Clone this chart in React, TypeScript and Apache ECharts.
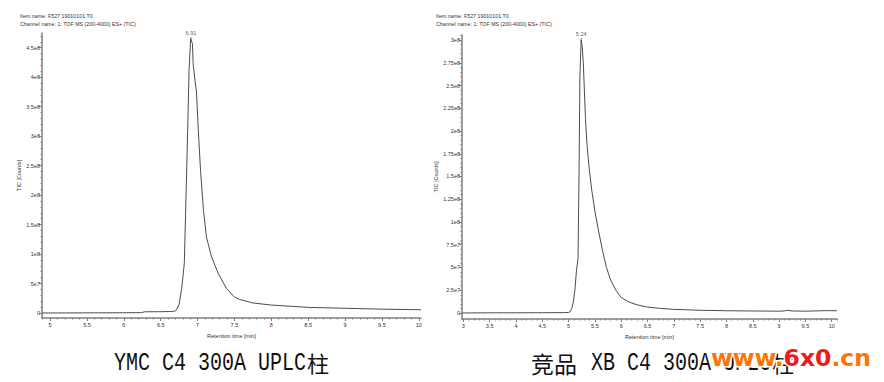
import React, { useEffect, useRef } from "react";
import * as echarts from "echarts";

// ---------- texts ----------
const headerItem = "Item name: F527 19010101 T0";
const headerChannel = "Channel name: 1: TOF MS (200-4000) ES+ (TIC)";
const xAxisTitle = "Retention time [min]";
const yAxisTitle = "TIC [Counts]";
const leftCaptionLatin = "YMC C4 300A UPLC";
const leftCaptionCjk = "柱";
const rightCaptionCjkHead = "竞品";
const rightCaptionLatin = "XB C4 300A UPLC";
const rightCaptionCjkTail = "柱";
const watermarkA = "www.";
const watermarkB = "6x0";
const watermarkC = ".cn";

// ---------- left chromatogram (YMC) ----------
const leftTime = [
  4.89, 5.5, 6.0, 6.24, 6.28, 6.5, 6.65, 6.7, 6.72, 6.75,
  6.785, 6.82, 6.843, 6.866, 6.884, 6.906, 6.93, 6.94, 6.965, 6.985,
  7.01, 7.04, 7.08, 7.12, 7.19, 7.28, 7.39, 7.5, 7.57, 7.75,
  8.0, 8.5, 9.0, 9.5, 10.03,
];
const leftTicE8 = [
  0.0, 0.002, 0.004, 0.006, 0.02, 0.022, 0.025, 0.035, 0.07, 0.15,
  0.42, 0.84, 1.97, 3.1, 4.11, 4.65, 4.57, 4.23, 3.94, 3.75,
  3.1, 2.42, 1.74, 1.29, 0.95, 0.67, 0.42, 0.27, 0.23, 0.17,
  0.135, 0.095, 0.08, 0.065, 0.055,
];
const leftPeakTime = 6.91;
const leftPeakTicE8 = 4.65;
const leftPeakLabel = "6.91";
const leftXRange = [4.89, 10.03];
const leftYRangeE8 = [-0.085, 4.75];
const leftXTicks = [5, 5.5, 6, 6.5, 7, 7.5, 8, 8.5, 9, 9.5, 10];
const leftYTicks = [0, 5e7, 1e8, 1.5e8, 2e8, 2.5e8, 3e8, 3.5e8, 4e8, 4.5e8];
const leftYLabels = ["0", "5e7", "1e8", "1.5e8", "2e8", "2.5e8", "3e8", "3.5e8", "4e8", "4.5e8"];

// ---------- right chromatogram (competitor) ----------
const rightTime = [
  2.975, 3.5, 4.0, 4.5, 4.9, 5.0, 5.03, 5.06, 5.09, 5.12,
  5.15, 5.18, 5.2, 5.215, 5.24, 5.26, 5.28, 5.3, 5.32, 5.35,
  5.39, 5.44, 5.5, 5.57, 5.64, 5.72, 5.8, 5.9, 6.0, 6.15,
  6.3, 6.5, 6.75, 7.0, 7.5, 8.0, 8.5, 9.0, 9.1, 9.15,
  9.25, 9.5, 9.9, 10.1,
];
const rightTicE8 = [
  0.0, 0.002, 0.002, 0.003, 0.004, 0.006, 0.015, 0.05, 0.12, 0.25,
  0.47, 0.6, 1.6, 2.6, 3.0, 2.92, 2.75, 2.45, 2.15, 1.85,
  1.6, 1.35, 1.12, 0.9, 0.7, 0.5, 0.36, 0.25, 0.17, 0.12,
  0.09, 0.065, 0.05, 0.04, 0.03, 0.025, 0.022, 0.02, 0.022, 0.03,
  0.022, 0.02, 0.026, 0.025,
];
const rightPeakTime = 5.24;
const rightPeakTicE8 = 3.0;
const rightPeakLabel = "5.24";
const rightXRange = [2.975, 10.1];
const rightYRangeE8 = [-0.066, 3.055];
const rightXTicks = [3, 3.5, 4, 4.5, 5, 5.5, 6, 6.5, 7, 7.5, 8, 8.5, 9, 9.5, 10];
const rightYTicks = [0, 2.5e7, 5e7, 7.5e7, 1e8, 1.25e8, 1.5e8, 1.75e8, 2e8, 2.25e8, 2.5e8, 2.75e8, 3e8];
const rightYLabels = ["0", "2.5e7", "5e7", "7.5e7", "1e8", "1.25e8", "1.5e8", "1.75e8", "2e8", "2.25e8", "2.5e8", "2.75e8", "3e8"];

// minor tick steps
const xMinorStep = 0.1;
const leftYMinorStep = 1e7;
const rightYMinorStep = 5e6;

function steps(from: number, to: number, step: number): number[] {
  const out: number[] = [];
  const n = Math.floor((to - from) / step + 1e-9);
  for (let i = 0; i <= n; i++) out.push(Math.round((from + i * step) * 1e6) / 1e6);
  return out;
}

const FONT = "Liberation Sans, Arial, sans-serif";
const AXIS_COLOR = "#7f7f7f";
const TEXT_COLOR = "#333";
const LINE_COLOR = "#4d4d4d";

function buildAxes(
  gridIndex: number,
  xRange: number[],
  yRange: number[],
  xTicks: number[],
  yTicks: number[],
  yLabels: string[],
  yMinorStep: number
) {
  const xMinor = steps(Math.ceil(xRange[0] * 10) / 10, xRange[1], xMinorStep);
  const yMinor = steps(0, yRange[1], yMinorStep);
  const xAxes = [
    {
      gridIndex,
      type: "value",
      min: xRange[0],
      max: xRange[1],
      position: "bottom",
      axisLine: { onZero: false, lineStyle: { color: AXIS_COLOR, width: 1.5 } },
      axisTick: { customValues: xTicks, length: 3, lineStyle: { color: AXIS_COLOR } },
      axisLabel: {
        customValues: xTicks,
        formatter: (v: number) => String(v),
        fontSize: 5.5,
        color: TEXT_COLOR,
        fontFamily: FONT,
        margin: 4,
      },
      splitLine: { show: false },
      name: xAxisTitle,
      nameLocation: "middle",
      nameGap: 13,
      nameTextStyle: { fontSize: 5.5, color: TEXT_COLOR, fontFamily: FONT },
    },
    {
      gridIndex,
      type: "value",
      min: xRange[0],
      max: xRange[1],
      position: "bottom",
      offset: 0,
      axisLine: { show: false, onZero: false },
      axisTick: { customValues: xMinor, length: 1.5, lineStyle: { color: AXIS_COLOR } },
      axisLabel: { show: false },
      splitLine: { show: false },
    },
  ];
  const yAxes = [
    {
      gridIndex,
      type: "value",
      min: yRange[0],
      max: yRange[1],
      position: "left",
      axisLine: { show: true, onZero: false, lineStyle: { color: AXIS_COLOR, width: 1.5 } },
      axisTick: { show: true, customValues: yTicks, length: 3, lineStyle: { color: AXIS_COLOR } },
      axisLabel: {
        customValues: yTicks,
        formatter: (v: number) => {
          const i = yTicks.findIndex((t) => Math.abs(t - v) < 1);
          return i >= 0 ? yLabels[i] : "";
        },
        fontSize: 5.5,
        color: TEXT_COLOR,
        fontFamily: FONT,
        margin: 2,
      },
      splitLine: { show: false },
      name: yAxisTitle,
      nameLocation: "middle",
      nameGap: 16,
      nameTextStyle: { fontSize: 5.5, color: TEXT_COLOR, fontFamily: FONT },
    },
    {
      gridIndex,
      type: "value",
      min: yRange[0],
      max: yRange[1],
      position: "left",
      offset: 0,
      axisLine: { show: false, onZero: false },
      axisTick: { show: true, customValues: yMinor, length: 1.5, lineStyle: { color: AXIS_COLOR } },
      axisLabel: { show: false },
      splitLine: { show: false },
    },
  ];
  return { xAxes, yAxes };
}

export default function App() {
  const ref = useRef<HTMLDivElement>(null);

  useEffect(() => {
    if (!ref.current) return;
    const chart = echarts.init(ref.current, undefined, { renderer: "svg" });

    const la = buildAxes(
      0,
      leftXRange,
      leftYRangeE8.map((v) => v * 1e8),
      leftXTicks,
      leftYTicks,
      leftYLabels,
      leftYMinorStep
    );
    const ra = buildAxes(
      1,
      rightXRange,
      rightYRangeE8.map((v) => v * 1e8),
      rightXTicks,
      rightYTicks,
      rightYLabels,
      rightYMinorStep
    );

    const leftData = leftTime.map((t, i) => [t, leftTicE8[i] * 1e8]);
    const rightData = rightTime.map((t, i) => [t, rightTicE8[i] * 1e8]);

    const peakSeries = (xi: number, yi: number, t: number, v: number, label: string) => ({
      type: "scatter",
      xAxisIndex: xi,
      yAxisIndex: yi,
      data: [[t, v * 1e8]],
      symbol: "rect",
      symbolSize: [0.8, 4],
      itemStyle: { color: "#333" },
      label: {
        show: true,
        position: "top",
        distance: 1,
        formatter: () => label,
        fontSize: 5.5,
        color: TEXT_COLOR,
        fontFamily: FONT,
      },
      silent: true,
    });

    const captionFont = "Liberation Mono, DejaVu Sans Mono, monospace";
    const cjkFont = "Noto Sans CJK SC, sans-serif";

    chart.setOption({
      animation: false,
      backgroundColor: "#ffffff",
      grid: [
        { left: 42, top: 33, width: 379, height: 285 },
        { left: 462, top: 35, width: 375, height: 284 },
      ],
      xAxis: [...la.xAxes, ...ra.xAxes],
      yAxis: [...la.yAxes, ...ra.yAxes],
      series: [
        {
          type: "line",
          xAxisIndex: 0,
          yAxisIndex: 0,
          data: leftData,
          showSymbol: false,
          lineStyle: { color: LINE_COLOR, width: 1 },
          silent: true,
        },
        peakSeries(0, 0, leftPeakTime, leftPeakTicE8, leftPeakLabel),
        {
          type: "line",
          xAxisIndex: 2,
          yAxisIndex: 2,
          data: rightData,
          showSymbol: false,
          lineStyle: { color: LINE_COLOR, width: 1 },
          silent: true,
        },
        peakSeries(2, 2, rightPeakTime, rightPeakTicE8, rightPeakLabel),
      ],
      graphic: [
        { type: "text", x: 20, y: 16, style: { text: headerItem, fontSize: 5.3, fontFamily: FONT, fill: TEXT_COLOR, verticalAlign: "middle" } },
        { type: "text", x: 20, y: 23.5, style: { text: headerChannel, fontSize: 5.3, fontFamily: FONT, fill: TEXT_COLOR, verticalAlign: "middle" } },
        { type: "text", x: 436, y: 16, style: { text: headerItem, fontSize: 5.3, fontFamily: FONT, fill: TEXT_COLOR, verticalAlign: "middle" } },
        { type: "text", x: 436, y: 24, style: { text: headerChannel, fontSize: 5.3, fontFamily: FONT, fill: TEXT_COLOR, verticalAlign: "middle" } },

        // left caption
        { type: "text", x: 114, y: 376, scaleY: 1.3, style: { text: leftCaptionLatin, fontSize: 20, fontFamily: captionFont, fill: "#111", verticalAlign: "bottom" } },
        { type: "text", x: 307, y: 373, style: { text: leftCaptionCjk, fontSize: 22, fontFamily: cjkFont, fill: "#111", verticalAlign: "bottom" } },

        // right caption
        { type: "text", x: 531, y: 374, style: { text: rightCaptionCjkHead, fontSize: 23, fontFamily: cjkFont, fill: "#111", verticalAlign: "bottom" } },
        { type: "text", x: 591, y: 376, scaleY: 1.3, style: { text: rightCaptionLatin, fontSize: 20, fontFamily: captionFont, fill: "#111", verticalAlign: "bottom" } },
        { type: "text", x: 772, y: 373, style: { text: rightCaptionCjkTail, fontSize: 22, fontFamily: cjkFont, fill: "#111", verticalAlign: "bottom" } },

        // watermark
        {
          type: "text",
          x: 711,
          y: 358,
          style: {
            text: `{o|${watermarkA}}{r|${watermarkB}}{o|${watermarkC}}`,
            verticalAlign: "middle",
            rich: {
              o: { fill: "#ff7500", fontSize: 23.5, fontWeight: "bold", fontFamily: "DejaVu Sans, sans-serif", stroke: "#fff", lineWidth: 3 },
              r: { fill: "#ee1c1c", fontSize: 23.5, fontWeight: "bold", fontFamily: "DejaVu Sans, sans-serif", stroke: "#fff", lineWidth: 3 },
            },
          },
        },
      ],
    });

    return () => chart.dispose();
  }, []);

  return (
    <div
      ref={ref}
      style={{ position: "absolute", left: 0, top: 0, width: 884, height: 382, background: "#fff" }}
    />
  );
}
